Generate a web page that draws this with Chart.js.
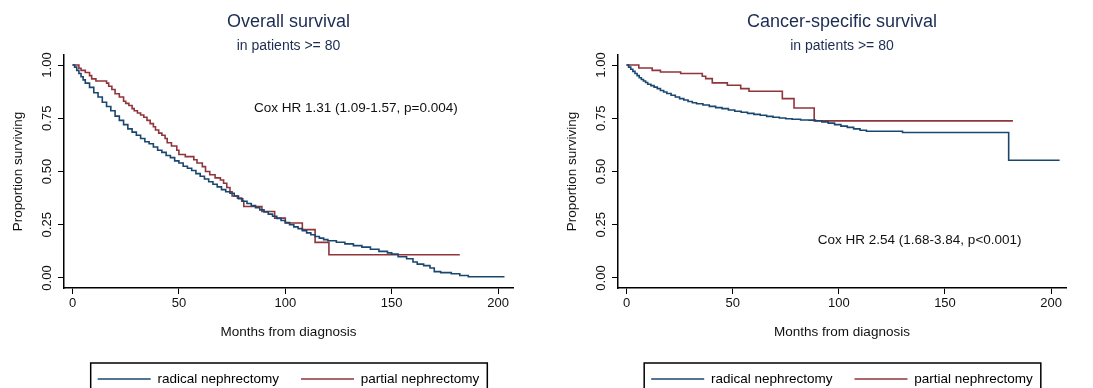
<!DOCTYPE html>
<html>
<head>
<meta charset="utf-8">
<script src="https://cdn.jsdelivr.net/npm/chart.js@4.4.0/dist/chart.umd.min.js"></script>
<style>
  html, body { margin: 0; padding: 0; background: #fff; }
  #wrap { position: relative; width: 1093px; height: 388px; overflow: hidden; }
  #left { position: absolute; left: 0; top: 0; }
  #right { position: absolute; left: 554px; top: 0; }
</style>
</head>
<body>
<div id="wrap">
  <canvas id="left" width="546" height="388"></canvas>
  <canvas id="right" width="539" height="388"></canvas>
</div>
<script>
// tick values
const xTicks = [0, 50, 100, 150, 200];
const yTicks = [0, 0.25, 0.5, 0.75, 1];

const seriesNames = ['radical nephrectomy', 'partial nephrectomy'];
const seriesColors = ['#1a476f', '#90353b'];

// overall survival, radical nephrectomy
const osRadicalMonths = [0, 1, 2, 3, 4, 5, 6, 8, 10, 12, 14, 16, 18, 20, 22, 24, 26, 28, 30, 32, 34, 36, 38, 40,
    42, 44, 46, 48, 50, 52, 54, 56, 58, 60, 62, 64, 66, 68, 70, 72, 74, 76, 78, 80, 82, 84, 86, 88, 90, 92, 94,
    96, 98, 100, 102, 104, 106, 108, 110, 112, 114, 116, 118, 120, 124, 128, 132, 136, 140, 144,
    148, 150, 153, 157, 160, 162, 165, 168, 170, 173, 178, 182, 186, 203];
const osRadicalSurv = [1, 0.99, 0.975, 0.96, 0.945, 0.93, 0.915, 0.895, 0.87, 0.85, 0.825, 0.805, 0.785, 0.76,
    0.74, 0.72, 0.70, 0.685, 0.67, 0.655, 0.64, 0.63, 0.615, 0.60, 0.59, 0.575, 0.565, 0.55, 0.54, 0.525, 0.515,
    0.505, 0.49, 0.478, 0.465, 0.452, 0.44, 0.428, 0.415, 0.405, 0.398, 0.385, 0.372, 0.36, 0.35, 0.34, 0.33,
    0.32, 0.31, 0.30, 0.29, 0.28, 0.27, 0.26, 0.25, 0.24, 0.232, 0.222, 0.212, 0.203, 0.195, 0.187, 0.18, 0.175,
    0.168, 0.16, 0.152, 0.145, 0.135, 0.125,
    0.118, 0.112, 0.10, 0.09, 0.075, 0.065, 0.058, 0.047, 0.03, 0.025, 0.02, 0.012, 0.006, 0.006];

// overall survival, partial nephrectomy
const osPartialMonths = [0, 3, 4, 6, 8, 9, 11, 16, 17, 18.5, 20, 22, 24, 25, 26.5, 28, 29, 30.5, 32, 33.5, 35,
    36.5, 38, 39, 40.5, 42, 43.5, 44.5, 46.5, 49, 50, 53, 57, 58.5, 61, 62.5, 64.5, 67, 69.5, 71, 72.5, 74, 75,
    77.5, 79.5, 80.5, 89, 95, 100, 108, 114, 120.5, 182];
const osPartialSurv = [1, 0.985, 0.975, 0.965, 0.95, 0.935, 0.925, 0.915, 0.90, 0.885, 0.865, 0.85, 0.83, 0.82,
    0.81, 0.795, 0.785, 0.775, 0.765, 0.755, 0.74, 0.725, 0.71, 0.695, 0.68, 0.67, 0.655, 0.635, 0.62, 0.60,
    0.58, 0.57, 0.555, 0.54, 0.523, 0.50, 0.485, 0.47, 0.46, 0.445, 0.425, 0.405, 0.385, 0.375, 0.36, 0.336,
    0.3125, 0.281, 0.258, 0.227, 0.167, 0.109, 0.109];

// cancer-specific survival, radical nephrectomy
const cssRadicalMonths = [0, 1, 2, 3, 4, 5, 6, 7, 8, 9, 10, 11.5, 13, 14.5, 16, 17.5, 19, 21, 23, 25, 27, 29, 31,
    33, 36, 39, 42, 45, 48, 51, 54, 57, 60, 63, 66, 69, 72, 75, 78, 82, 86, 89, 92, 95, 98, 101, 104, 107, 110,
    113, 130, 180, 204];
const cssRadicalSurv = [1, 0.99, 0.98, 0.97, 0.96, 0.95, 0.94, 0.932, 0.925, 0.918, 0.91, 0.903, 0.896, 0.889,
    0.88, 0.873, 0.866, 0.858, 0.85, 0.842, 0.836, 0.829, 0.823, 0.818, 0.812, 0.806, 0.80, 0.795, 0.789, 0.783,
    0.778, 0.773, 0.768, 0.764, 0.759, 0.755, 0.751, 0.748, 0.745, 0.742, 0.741, 0.738, 0.733, 0.727, 0.72,
    0.713, 0.707, 0.70, 0.694, 0.689, 0.683, 0.553, 0.553];

// cancer-specific survival, partial nephrectomy
const cssPartialMonths = [0, 5.8, 12.1, 16, 25.5, 35.7, 37.3, 40.4, 47.5, 53.8, 57.7, 73.4, 78.9, 88.4, 182];
const cssPartialSurv = [1, 0.986, 0.975, 0.967, 0.96, 0.947, 0.936, 0.916, 0.905, 0.889, 0.877, 0.842, 0.798,
    0.7375, 0.7375];

const FONT = '"Liberation Sans", Arial, Helvetica, sans-serif';
Chart.defaults.font.family = FONT;

function toPoints(months, surv) {
    return months.map((m, i) => ({ x: m, y: surv[i] }));
}

// cox text and the frame round the legend
const extras = {
    id: 'extras',
    afterDraw(chart, args, opts) {
        const ctx = chart.ctx;
        const xs = chart.scales.x;
        const ys = chart.scales.y;
        ctx.save();
        ctx.font = '13.5px ' + FONT;
        ctx.fillStyle = '#111';
        ctx.textBaseline = 'middle';
        ctx.textAlign = 'left';
        ctx.fillText(opts.cox, xs.getPixelForValue(opts.coxAt[0]), ys.getPixelForValue(opts.coxAt[1]));

        const hb = chart.legend.legendHitBoxes;
        if (hb && hb.length) {
            const first = hb[0];
            const last = hb[hb.length - 1];
            const x0 = first.left - 7;
            const x1 = last.left + last.width + 8;
            const y0 = first.top + first.height / 2 - 16;
            ctx.strokeStyle = '#000';
            ctx.lineWidth = 1.5;
            ctx.strokeRect(x0, y0, x1 - x0, chart.height + 10 - y0);
        }
        ctx.restore();
    }
};

function axisBase() {
    return {
        type: 'linear',
        grid: { drawOnChartArea: false, drawTicks: true, tickLength: 6, color: '#000', lineWidth: 1 },
        border: { display: true, color: '#000', width: 1.5 }
    };
}

function makeChart(id, title, radical, partial, cox, coxAt, padRight) {
    const xAxis = axisBase();
    xAxis.min = -4;
    xAxis.max = 207;
    xAxis.afterBuildTicks = s => { s.ticks = xTicks.map(v => ({ value: v })); };
    xAxis.ticks = { font: { size: 13 }, color: '#111', padding: 2, maxRotation: 0, autoSkip: false,
        callback: v => String(v) };
    xAxis.title = { display: true, text: 'Months from diagnosis', color: '#111', font: { size: 13.5 },
        padding: { top: 10.3, bottom: 10.15 } };

    const yAxis = axisBase();
    yAxis.min = -0.047;
    yAxis.max = 1.047;
    yAxis.afterBuildTicks = s => { s.ticks = yTicks.map(v => ({ value: v })); };
    yAxis.ticks = { font: { size: 13 }, color: '#111', padding: -2, minRotation: 90, maxRotation: 90,
        crossAlign: 'center', autoSkip: false, callback: v => Number(v).toFixed(2) };
    yAxis.title = { display: true, text: 'Proportion surviving', color: '#111', font: { size: 13.5 },
        padding: { top: 10, bottom: 20.2 } };

    return new Chart(document.getElementById(id), {
        type: 'line',
        data: {
            datasets: [
                { label: seriesNames[0], data: radical, borderColor: seriesColors[0], backgroundColor: seriesColors[0],
                  borderWidth: 1.6, stepped: 'before', pointRadius: 0, fill: false },
                { label: seriesNames[1], data: partial, borderColor: seriesColors[1], backgroundColor: seriesColors[1],
                  borderWidth: 1.6, stepped: 'before', pointRadius: 0, fill: false }
            ]
        },
        options: {
            responsive: false,
            animation: false,
            events: [],
            layout: { padding: { left: 0, right: padRight, top: 0, bottom: 0 } },
            scales: { x: xAxis, y: yAxis },
            plugins: {
                title: { display: true, text: title, fullSize: false, color: '#1c2c52',
                    font: { size: 18, weight: 'normal' }, padding: { top: 11, bottom: 2 } },
                subtitle: { display: true, text: 'in patients >= 80', fullSize: false, color: '#1c2c52',
                    font: { size: 14, weight: 'normal' }, padding: { top: 3, bottom: 0.6 } },
                legend: {
                    position: 'bottom',
                    fullSize: false,
                    maxHeight: 37.75,
                    labels: {
                        boxWidth: 53,
                        boxHeight: 1.5,
                        padding: 22,
                        color: '#111',
                        font: { size: 13.5 },
                        generateLabels: chart => chart.data.datasets.map((d, i) => ({
                            text: d.label, fillStyle: d.borderColor, strokeStyle: d.borderColor,
                            lineWidth: 0, hidden: false, datasetIndex: i
                        }))
                    }
                },
                tooltip: { enabled: false },
                extras: { cox: cox, coxAt: coxAt }
            }
        },
        plugins: [extras]
    });
}

makeChart('left', 'Overall survival',
    toPoints(osRadicalMonths, osRadicalSurv), toPoints(osPartialMonths, osPartialSurv),
    'Cox HR 1.31 (1.09-1.57, p=0.004)', [85.3, 0.797], 33);

makeChart('right', 'Cancer-specific survival',
    toPoints(cssRadicalMonths, cssRadicalSurv), toPoints(cssPartialMonths, cssPartialSurv),
    'Cox HR 2.54 (1.68-3.84, p<0.001)', [90.1, 0.178], 27);
</script>
</body>
</html>
